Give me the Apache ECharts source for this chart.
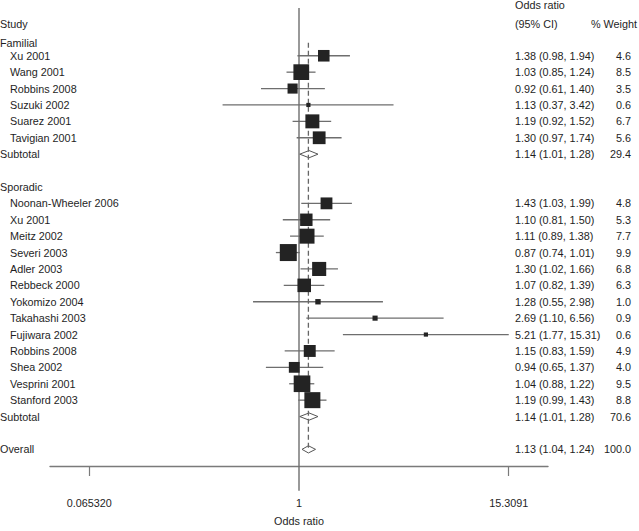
<!DOCTYPE html>
<html><head><meta charset="utf-8">
<script src="https://cdn.jsdelivr.net/npm/echarts@6/dist/echarts.min.js"></script>
<style>html,body{margin:0;padding:0;background:#fff}#c{width:639px;height:531px}</style>
</head><body><div id="c"></div>
<script>
// ---- data ----
const familialStudies = ['Xu 2001','Wang 2001','Robbins 2008','Suzuki 2002','Suarez 2001','Tavigian 2001'];
const familialOR  = [1.38, 1.03, 0.92, 1.13, 1.19, 1.30];
const familialLo  = [0.98, 0.85, 0.61, 0.37, 0.92, 0.97];
const familialHi  = [1.94, 1.24, 1.40, 3.42, 1.52, 1.74];
const familialW   = [4.6, 8.5, 3.5, 0.6, 6.7, 5.6];
const familialSub = [1.14, 1.01, 1.28, 29.4];

const sporadicStudies = ['Noonan-Wheeler 2006','Xu 2001','Meitz 2002','Severi 2003','Adler 2003','Rebbeck 2000','Yokomizo 2004','Takahashi 2003','Fujiwara 2002','Robbins 2008','Shea 2002','Vesprini 2001','Stanford 2003'];
const sporadicOR = [1.43, 1.10, 1.11, 0.87, 1.30, 1.07, 1.28, 2.69, 5.21, 1.15, 0.94, 1.04, 1.19];
const sporadicLo = [1.03, 0.81, 0.89, 0.74, 1.02, 0.82, 0.55, 1.10, 1.77, 0.83, 0.65, 0.88, 0.99];
const sporadicHi = [1.99, 1.50, 1.38, 1.01, 1.66, 1.39, 2.98, 6.56, 15.31, 1.59, 1.37, 1.22, 1.43];
const sporadicW  = [4.8, 5.3, 7.7, 9.9, 6.8, 6.3, 1.0, 0.9, 0.6, 4.9, 4.0, 9.5, 8.8];
const sporadicSub = [1.14, 1.01, 1.28, 70.6];
const overall = [1.13, 1.04, 1.24, 100.0];

const xTickValues = [0.06532, 1, 15.3091];
const xTickLabels = ['0.065320', '1', '15.3091'];

// ---- layout (row positions) ----
const fmt = (o,l,h) => o.toFixed(2) + ' (' + l.toFixed(2) + ', ' + h.toFixed(2) + ')';
const studies = [], subs = [], texts = [];
familialStudies.forEach((s,i) => {
  studies.push({r:i, or:familialOR[i], lo:familialLo[i], hi:familialHi[i], w:familialW[i]});
  texts.push({r:i, label:s, indent:true, ci:fmt(familialOR[i],familialLo[i],familialHi[i]), w:familialW[i].toFixed(1)});
});
subs.push({r:6, d:familialSub});
texts.push({r:6, label:'Subtotal', ci:fmt(familialSub[0],familialSub[1],familialSub[2]), w:familialSub[3].toFixed(1)});
texts.push({r:8, label:'Sporadic'});
sporadicStudies.forEach((s,i) => {
  studies.push({r:9+i, or:sporadicOR[i], lo:sporadicLo[i], hi:sporadicHi[i], w:sporadicW[i]});
  texts.push({r:9+i, label:s, indent:true, ci:fmt(sporadicOR[i],sporadicLo[i],sporadicHi[i]), w:sporadicW[i].toFixed(1)});
});
subs.push({r:22, d:sporadicSub});
texts.push({r:22, label:'Subtotal', ci:fmt(sporadicSub[0],sporadicSub[1],sporadicSub[2]), w:sporadicSub[3].toFixed(1)});
subs.push({r:24, d:overall});
texts.push({r:24, label:'Overall', ci:fmt(overall[0],overall[1],overall[2]), w:overall[3].toFixed(1)});
texts.push({r:-1.95, label:'Study', ci:'(95% CI)', wHead:'% Weight'});
texts.push({r:-0.79, label:'Familial'});
texts.push({r:-3.12, ci:'Odds ratio'});

const FAMILY = '"Liberation Sans", Arial, sans-serif';
const FONT = '10.8px ' + FAMILY;
const TXT = '#1e1e1e';
const LINE = '#6e6e6e';

const chart = echarts.init(document.getElementById('c'), null, {renderer:'svg'});
chart.setOption({
  animation: false,
  backgroundColor: '#fff',
  grid: {left: 50, right: 91, top: 0, bottom: 63, containLabel: false},
  xAxis: {
    type: 'log', logBase: 10, min: 0.0392, max: 25.51,
    name: 'Odds ratio', nameLocation: 'middle', nameGap: 49,
    nameTextStyle: {color: TXT, fontSize: 10.8, fontFamily: FAMILY},
    axisLine: {show: true, onZero: false, lineStyle: {color: '#7a7a7a', width: 1.4}},
    axisTick: {show: true, length: 10, customValues: [xTickValues[0], xTickValues[2]], lineStyle: {color: '#7a7a7a', width: 1.2}},
    axisLabel: {show: true, margin: 31, customValues: xTickValues, color: TXT, fontSize: 10.8,
      fontFamily: FAMILY,
      formatter: v => {
        let best = 0;
        xTickValues.forEach((t,i) => { if (Math.abs(Math.log(t)-Math.log(v)) < Math.abs(Math.log(xTickValues[best])-Math.log(v))) best = i; });
        return xTickLabels[best];
      }},
    splitLine: {show: false}
  },
  yAxis: {type: 'value', inverse: true, min: -3.4, max: 25.015, show: false},
  series: [
    { // reference line at OR = 1
      type: 'custom', z: 1, silent: true,
      data: [[1, -2.914, 26.53]],
      encode: {x: 0, y: [1, 2]},
      renderItem: (params, api) => {
        const p1 = api.coord([api.value(0), api.value(1)]);
        const p2 = api.coord([api.value(0), api.value(2)]);
        return {type: 'line', shape: {x1: p1[0], y1: p1[1], x2: p2[0], y2: p2[1]},
          style: {stroke: LINE, lineWidth: 1.4}};
      }
    },
    { // CI lines
      type: 'custom', z: 2, silent: true,
      data: studies.map(s => [s.lo, s.hi, s.r]),
      encode: {x: [0, 1], y: 2},
      renderItem: (params, api) => {
        const p1 = api.coord([api.value(0), api.value(2)]);
        const p2 = api.coord([api.value(1), api.value(2)]);
        return {type: 'line', shape: {x1: p1[0], y1: p1[1], x2: p2[0], y2: p2[1]},
          style: {stroke: LINE, lineWidth: 1.3}};
      }
    },
    { // diamonds
      type: 'custom', z: 2, silent: true,
      data: subs.map(s => [s.d[1], s.d[0], s.d[2], s.r]),
      encode: {x: [0, 1, 2], y: 3},
      renderItem: (params, api) => {
        const r = api.value(3), h = 0.22;
        const pts = [api.coord([api.value(0), r]), api.coord([api.value(1), r - h]),
                     api.coord([api.value(2), r]), api.coord([api.value(1), r + h])];
        return {type: 'polygon', shape: {points: pts}, style: {fill: '#fff', stroke: '#555', lineWidth: 1}};
      }
    },
    { // dashed overall line on top of diamonds
      type: 'custom', z: 3, silent: true,
      data: [[overall[0], -0.8, 24]],
      encode: {x: 0, y: [1, 2]},
      renderItem: (params, api) => {
        const p1 = api.coord([api.value(0), api.value(1)]);
        const p2 = api.coord([api.value(0), api.value(2)]);
        return {type: 'line', shape: {x1: p1[0], y1: p1[1], x2: p2[0], y2: p2[1]},
          style: {stroke: '#666', lineWidth: 1.3, lineDash: [5, 3]}};
      }
    },
    { // study squares
      type: 'scatter', z: 4, silent: true,
      symbol: 'rect',
      symbolSize: (v, p) => 5.4 * Math.sqrt(studies[p.dataIndex].w),
      itemStyle: {color: '#232323', opacity: 1},
      data: studies.map(s => [s.or, s.r])
    },
    { // table texts
      type: 'custom', z: 5, silent: true,
      data: texts.map(t => [1, t.r]),
      encode: {x: 0, y: 1},
      renderItem: (params, api) => {
        const t = texts[params.dataIndex];
        const y = api.coord([1, api.value(1)])[1];
        const ch = [];
        if (t.label) ch.push({type: 'text', x: t.indent ? 10 : 0, y: y,
          style: {text: t.label, fill: TXT, font: FONT, align: 'left', verticalAlign: 'middle'}});
        if (t.ci) ch.push({type: 'text', x: 515, y: y,
          style: {text: t.ci, fill: TXT, font: FONT, align: 'left', verticalAlign: 'middle'}});
        if (t.w) ch.push({type: 'text', x: 631, y: y,
          style: {text: t.w, fill: TXT, font: FONT, align: 'right', verticalAlign: 'middle'}});
        if (t.wHead) ch.push({type: 'text', x: 637, y: y,
          style: {text: t.wHead, fill: TXT, font: FONT, align: 'right', verticalAlign: 'middle'}});
        return {type: 'group', children: ch};
      }
    }
  ]
});
</script>
</body></html>
